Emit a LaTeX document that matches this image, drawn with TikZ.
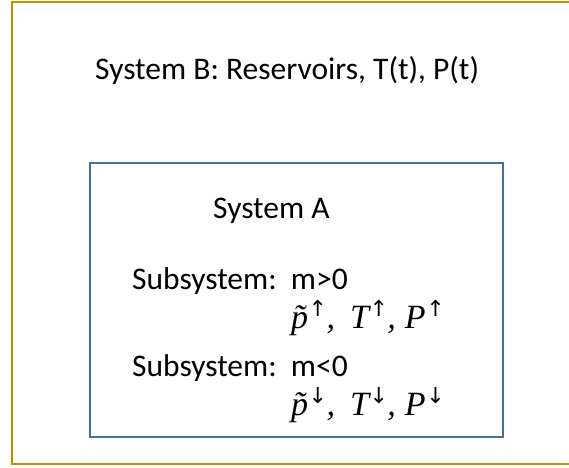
\documentclass[tikz,border=0pt]{standalone}
\usepackage{fontspec}
\setmainfont{Carlito}
\newfontfamily\mathtxt{Liberation Serif}
\newfontfamily\arrfont{DejaVu Sans}
\definecolor{goldline}{HTML}{BF9000}
\definecolor{blueline}{HTML}{41719C}
\newcommand{\arrsup}[1]{\hspace{2pt}\raisebox{0.33em}{\arrfont\fontsize{22}{24}\selectfont\upshape\kern-1.5pt #1\kern-1.5pt}\hspace{1pt}}
\begin{document}
\begin{tikzpicture}[x=1pt,y=-1pt,
  lbl/.style={inner sep=0pt,anchor=west,font=\fontsize{31.5}{36}\selectfont},
  mth/.style={inner sep=0pt,anchor=west,font=\mathtxt\itshape\fontsize{34}{38}\selectfont}]
\useasboundingbox[fill=white] (0,0) rectangle (569,467);
\draw[goldline,line width=2pt] (600,2) -- (11.5,2) -- (11.5,464) -- (600,464);
\draw[blueline,line width=2pt] (89.5,162.7) rectangle (502.7,436.7);
\node[lbl] (b) at (95,71) {System B: Reservoirs, T(t), P(t)};
\node[lbl] (a) at (213,211) {System A};
\node[lbl] (s1) at (132,281) {Subsystem:\ \ m>0};
\node[mth] (m1) at (291,318) {\~{p}\arrsup{↑},\hspace{15pt}T\arrsup{↑},\hspace{9pt}P\arrsup{↑}};
\node[lbl] (s2) at (132,368) {Subsystem:\ \ m<0};
\node[mth] (m2) at (291,405) {\~{p}\arrsup{↓},\hspace{15pt}T\arrsup{↓},\hspace{9pt}P\arrsup{↓}};
\end{tikzpicture}
\end{document}
